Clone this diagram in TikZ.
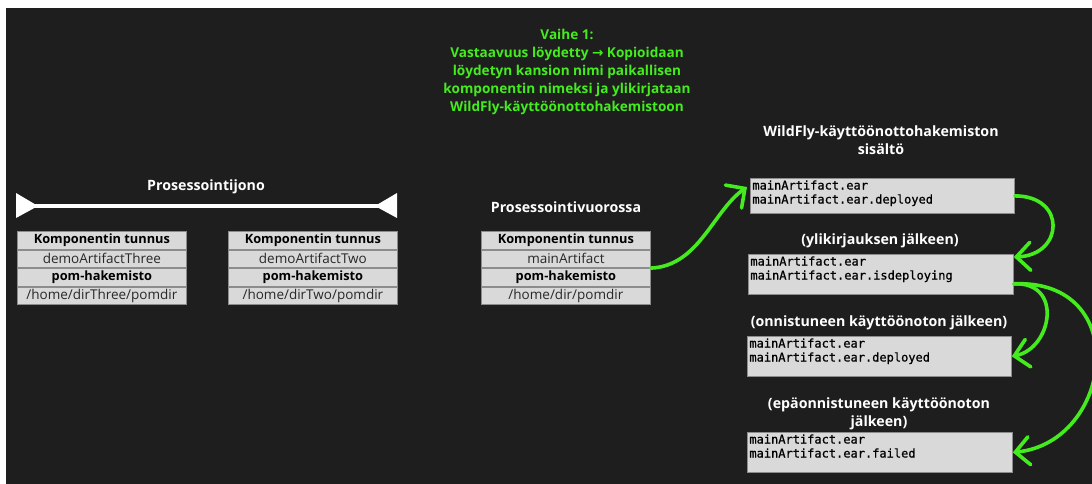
\documentclass[tikz,border=0pt]{standalone}
\usepackage{fontspec}
\setmainfont{Open Sans}
\newfontfamily\monofont[BoldFont={DejaVu Sans Mono},BoldFeatures={FakeBold=0.9}]{DejaVu Sans Mono}
\newfontfamily\arrowfont{DejaVu Sans}
\usetikzlibrary{arrows.meta,calc,positioning}
\definecolor{bgdark}{RGB}{30,30,30}
\definecolor{cellgray}{RGB}{217,217,217}
\definecolor{cellline}{RGB}{140,140,140}
\definecolor{celltext}{RGB}{40,40,40}
\definecolor{flowgreen}{RGB}{68,236,30}

\begin{document}
\begin{tikzpicture}[x=1pt,y=-1pt,
    cell/.style={draw=cellline, fill=cellgray, line width=0.8pt, minimum width=169pt,
      minimum height=17.75pt, inner sep=0pt, text=celltext,
      font=\fontsize{13.5}{15}\selectfont},
    hdr/.style={cell, text=black, font=\fontsize{12.8}{15}\selectfont\bfseries},
    dirbox/.style={draw=cellline, fill=cellgray, line width=0.8pt, anchor=north west,
      minimum width=265pt, minimum height=40pt, inner sep=0pt},
    dirtext/.style={anchor=north west, align=left, inner sep=2.2pt, text=black,
      font=\monofont\bfseries\fontsize{12}{14}\selectfont},
    caption/.style={text=white, align=center, font=\fontsize{14.2}{17.5}\selectfont\bfseries},
    flow/.style={draw=flowgreen, line width=3.6pt, line cap=round,
      -{Straight Barb[length=14pt,width=28pt,line cap=round]}}]
  % background
  \fill[white] (0,0) rectangle (1092,484);
  \fill[bgdark] (6,8) rectangle (1092,484);
  \useasboundingbox (0,0) rectangle (1092,484);

  % step text
  \node[text=flowgreen, align=center, font=\fontsize{13.6}{18.2}\selectfont\bfseries] (vaihe) at (567,72)
    {Vaihe 1:\\Vastaavuus löydetty {\arrowfont\bfseries →} Kopioidaan\\löydetyn kansion nimi paikallisen\\komponentin nimeksi ja ylikirjataan\\WildFly-käyttöönottohakemistoon};

  % queue
  \node[caption] (jono) at (206,187) {Prosessointijono};
  \coordinate (qleft) at (16,206);
  \coordinate (qright) at (397,206);
  \draw[white, line width=3.5pt] (qleft) -- (qright);
  \fill[white] (qleft) ++(0,-13) -- ++(22,13) -- ++(-22,12) -- cycle;
  \fill[white] (qright) ++(0,-13) -- ++(-22,13) -- ++(22,12) -- cycle;

  \node[caption] (vuoro) at (566,207) {Prosessointivuorossa};

  % component tables
  \foreach \nm/\xl/\art/\dir in {qthree/17/demoArtifactThree/dirThree, qtwo/228/demoArtifactTwo/dirTwo, cur/481/mainArtifact/dir}{
    \node[hdr, anchor=north west] (\nm-h) at (\xl,231) {Komponentin tunnus};
    \node[cell, below=0pt of \nm-h] (\nm-a) {\art};
    \node[hdr, below=0pt of \nm-a] (\nm-p) {pom-hakemisto};
    \node[cell, below=0pt of \nm-p] (\nm-d) {/home/\dir/pomdir};
  }

  % deployment directory
  \node[caption] (wildfly) at (881,140) {WildFly-käyttöönottohakemiston\\sisältö};
  \node[dirbox, minimum width=264pt, minimum height=35pt] (dA) at (750,178) {};
  \node[dirtext] (tA) at (dA.north west) {mainArtifact.ear\\mainArtifact.ear.deployed};

  \node[caption] (ylik) at (880,241) {(ylikirjauksen jälkeen)};
  \node[dirbox] (dB) at (748,254) {};
  \node[dirtext] (tB) at (dB.north west) {mainArtifact.ear\\mainArtifact.ear.isdeploying};

  \node[caption] (onn) at (879,323) {(onnistuneen käyttöönoton jälkeen)};
  \node[dirbox, minimum width=264pt] (dC) at (747,336) {};
  \node[dirtext] (tC) at (dC.north west) {mainArtifact.ear\\mainArtifact.ear.deployed};

  \node[caption] (epa) at (879,414) {(epäonnistuneen käyttöönoton\\jälkeen)};
  \node[dirbox] (dD) at (747,432) {};
  \node[dirtext] (tD) at (dD.north west) {mainArtifact.ear\\mainArtifact.ear.failed};

  % arrows
  \draw[flow] (cur-a.south east) .. controls +(48,-2) and +(-34,24) .. ($(dA.north west)+(-3,9)$);
  \draw[flow] (dA.east) .. controls +(52,0) and +(50,-2) .. ($(dB.north east)+(0,3)$);
  \draw[flow] ($(dB.south east)+(0,-11)$) .. controls +(50,-2) and +(40,-8) .. (dC.east);
  \draw[flow] ($(dB.south east)+(0,-11)$) .. controls +(120,-5) and +(100,-10) .. (dD.east);
\end{tikzpicture}
\end{document}
